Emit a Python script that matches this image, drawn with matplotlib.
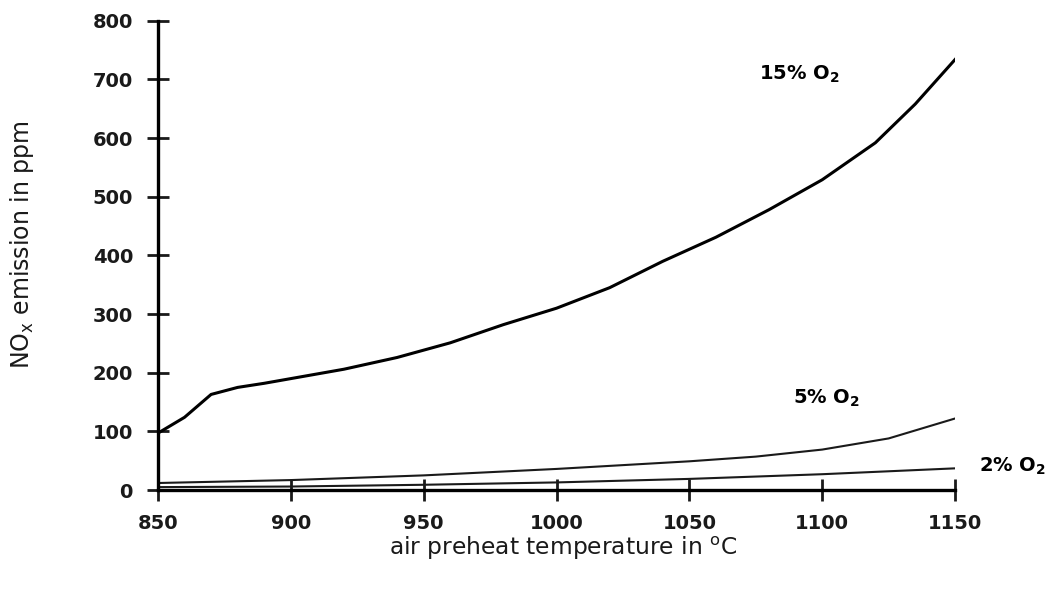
import matplotlib
matplotlib.use("Agg")
import matplotlib.pyplot as plt

plt.rcParams['font.family'] = ['DejaVu Sans']
plt.rcParams['mathtext.fontset'] = 'dejavusans'

# temperatures (degC) and NOx emission (ppm)
temp_15 = [850, 860, 870, 880, 890, 900, 920, 940, 960, 980, 1000,
           1020, 1040, 1060, 1080, 1100, 1120, 1135, 1150]
nox_15 = [97, 124, 163, 175, 182, 190, 206, 226, 251, 282, 310,
          345, 390, 431, 478, 529, 592, 658, 734]

temp_5 = [850, 900, 950, 1000, 1050, 1075, 1100, 1125, 1150]
nox_5 = [12, 17, 25, 36, 49, 57, 69, 88, 122]

temp_2 = [850, 900, 950, 1000, 1050, 1100, 1150]
nox_2 = [5, 6, 9, 13, 19, 27, 37]

x_ticks = [850, 900, 950, 1000, 1050, 1100, 1150]
y_ticks = [0, 100, 200, 300, 400, 500, 600, 700, 800]

fig = plt.figure(figsize=(10.53, 5.94), dpi=100)
ax = fig.add_axes([0.150, 0.175, 0.757, 0.790])

ax.plot(temp_15, nox_15, color='black', lw=2.2)
ax.plot(temp_5, nox_5, color='#1a1a1a', lw=1.5)
ax.plot(temp_2, nox_2, color='#1a1a1a', lw=1.5)

ax.set_xlim(850, 1150)
ax.set_ylim(0, 800)
ax.set_xticks(x_ticks)
ax.set_yticks(y_ticks)

for side in ['top', 'right']:
    ax.spines[side].set_visible(False)
for side in ['left', 'bottom']:
    ax.spines[side].set_linewidth(2.4)
ax.tick_params(direction='inout', length=16, width=2, labelsize=14, colors='#1a1a1a')
ax.tick_params(axis='x', pad=9)
ax.tick_params(axis='y', pad=10)
for lbl in ax.get_xticklabels() + ax.get_yticklabels():
    lbl.set_fontweight('bold')

fig.text(563 / 1053, 1 - 548 / 594, 'air preheat temperature in $^{\\mathrm{o}}$C',
         fontsize=16.8, color='#1a1a1a', ha='center', va='center')
fig.text(22 / 1053, 0.588, 'NO$_\\mathrm{x}$ emission in ppm',
         fontsize=17, color='#1a1a1a', ha='center', va='center', rotation=90)

ax.text(1091.5, 709, '15% O$_\\mathbf{2}$', fontsize=14, fontweight='bold', ha='center', va='center')
ax.text(1101.5, 157, '5% O$_\\mathbf{2}$', fontsize=14, fontweight='bold', ha='center', va='center')
ax.text(1171.5, 40, '2% O$_\\mathbf{2}$', fontsize=14, fontweight='bold', ha='center', va='center', clip_on=False)

fig.savefig('out.png', dpi=100)
